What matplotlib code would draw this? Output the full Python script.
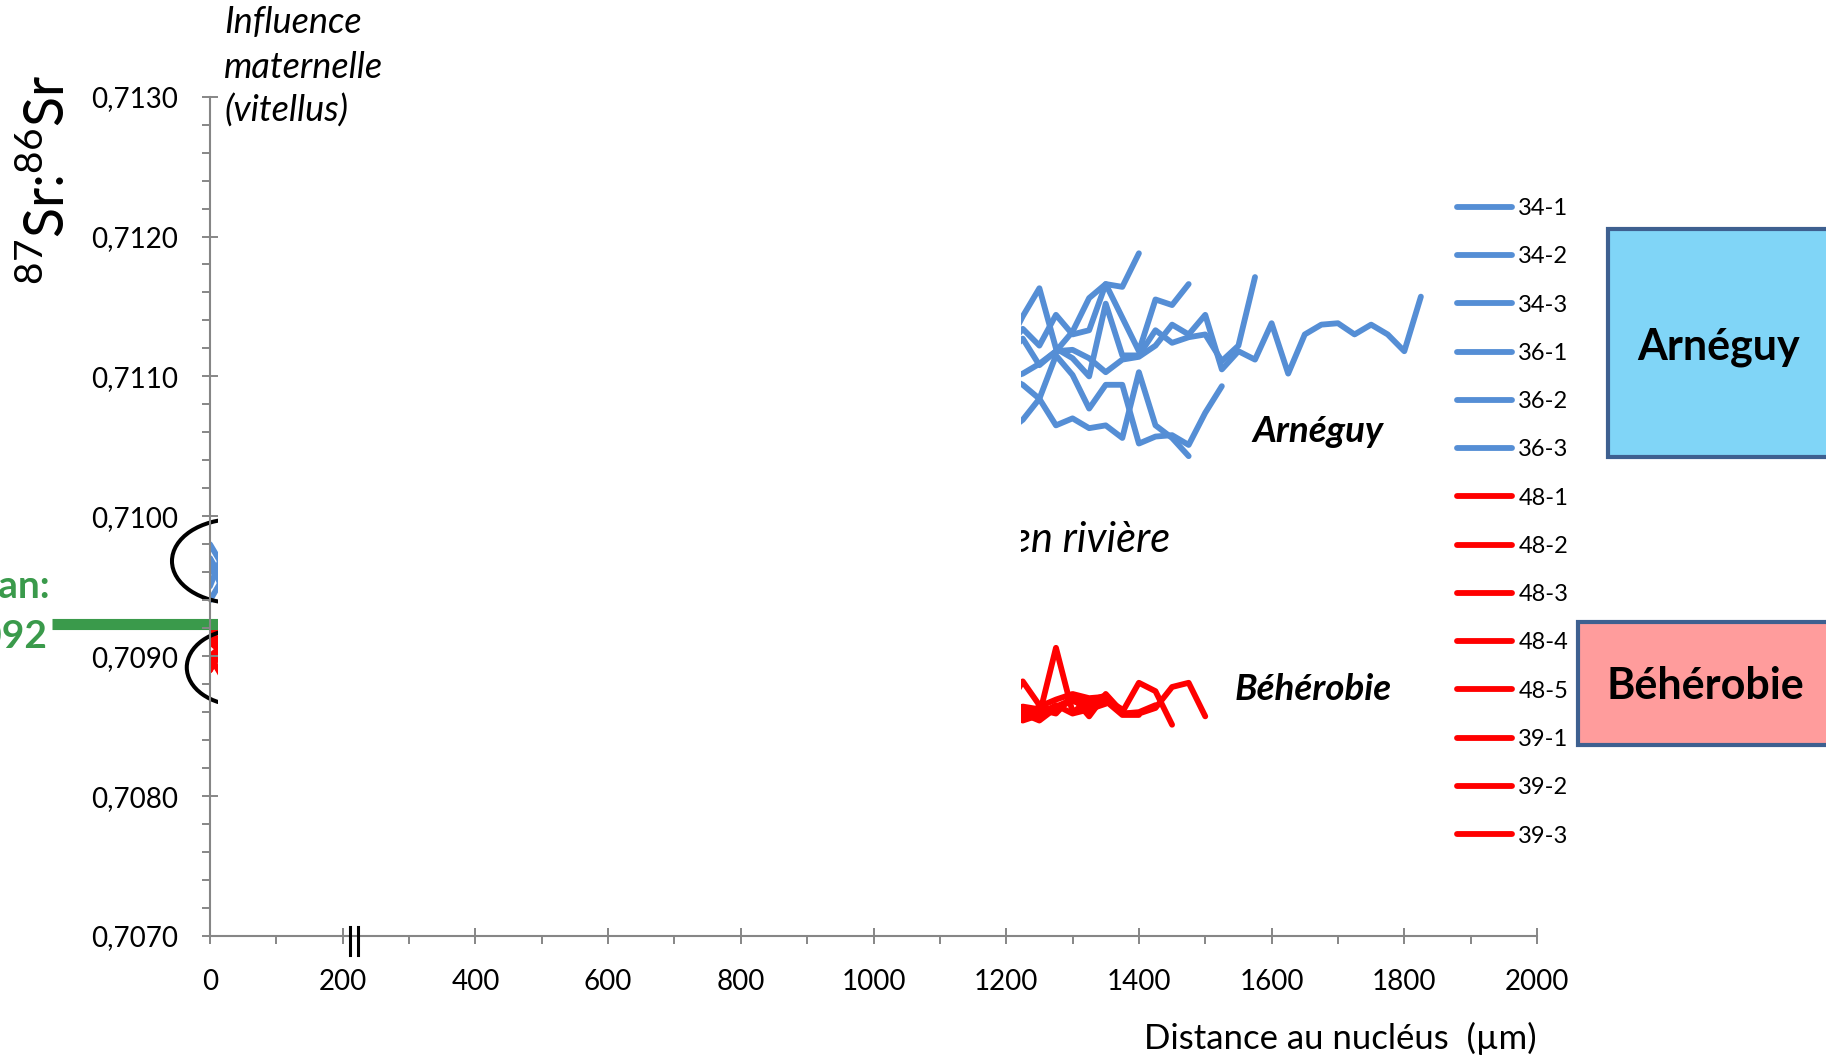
import matplotlib.pyplot as plt
from matplotlib.patches import Ellipse, Rectangle
from matplotlib.ticker import MultipleLocator, FuncFormatter
import matplotlib.transforms as mtransforms

plt.rcParams['font.family'] = ['Lato', 'DejaVu Sans']
plt.rcParams['mathtext.fontset'] = 'custom'
plt.rcParams['mathtext.rm'] = 'Lato'

# distances (µm): first points near the nucleus, then the visible river part
x_near = [0, 25]
x_far = [1200, 1225, 1250, 1275, 1300, 1325, 1350, 1375, 1400, 1425, 1450,
         1475, 1500, 1525, 1550, 1575, 1600, 1625, 1650, 1675, 1700, 1725,
         1750, 1775, 1800, 1825]

# Arnéguy fish (blue)
arn_labels = ["34-1", "34-2", "34-3", "36-1", "36-2", "36-3"]
arn_near = [
    [0.7097, 0.7095],
    [0.7098, 0.7096],
    [0.7096, 0.7097],
    [0.7095, 0.7098],
    [0.7094, 0.7096],
    [0.7097, 0.7094],
]
arn_far = [
    [0.71098, 0.71102, 0.71109, 0.71118, 0.71132, 0.71156, 0.71166, 0.71164, 0.71188],
    [0.71120, 0.71134, 0.71122, 0.71144, 0.71130, 0.71133, 0.71166, 0.71142, 0.71118,
     0.71155, 0.71151, 0.71166],
    [0.71115, 0.71127, 0.71108, 0.71118, 0.71119, 0.71113, 0.71103, 0.71112, 0.71114,
     0.71122, 0.71137, 0.71130, 0.71144, 0.71105, 0.71118, 0.71112, 0.71138, 0.71102,
     0.71130, 0.71137, 0.71138, 0.71130, 0.71137, 0.71130, 0.71118, 0.71157],
    [0.71120, 0.71143, 0.71163, 0.71120, 0.71113, 0.71100, 0.71152, 0.71115, 0.71115,
     0.71133, 0.71124, 0.71128, 0.71130, 0.71111, 0.71122, 0.71171],
    [0.71100, 0.71094, 0.71084, 0.71065, 0.71070, 0.71063, 0.71065, 0.71056, 0.71103,
     0.71065, 0.71056, 0.71043],
    [0.71060, 0.71069, 0.71084, 0.71115, 0.71101, 0.71077, 0.71094, 0.71094, 0.71052,
     0.71057, 0.71058, 0.71051, 0.71074, 0.71093],
]

# Béhérobie fish (red)
beh_labels = ["48-1", "48-2", "48-3", "48-4", "48-5", "39-1", "39-2", "39-3"]
beh_near = [
    [0.7092, 0.7089],
    [0.7091, 0.7093],
    [0.7090, 0.7091],
    [0.7089, 0.7092],
    [0.7091, 0.7090],
    [0.7090, 0.7088],
    [0.7092, 0.7090],
    [0.7089, 0.7091],
]
beh_far = [
    [0.70860, 0.70862, 0.70858, 0.70906, 0.70860, 0.70868, 0.70872, 0.70859, 0.70859,
     0.70863, 0.70878, 0.70881, 0.70857],
    [0.70862, 0.70882, 0.70865, 0.70860, 0.70871, 0.70857, 0.70873, 0.70860, 0.70881,
     0.70875, 0.70851],
    [0.70860, 0.70856, 0.70864, 0.70869, 0.70873, 0.70870, 0.70871, 0.70859, 0.70860,
     0.70865],
    [0.70860, 0.70859, 0.70854, 0.70863, 0.70868, 0.70864, 0.70869, 0.70862],
    [0.70860, 0.70854, 0.70858, 0.70865, 0.70859, 0.70862, 0.70866],
    [0.70860, 0.70864, 0.70862, 0.70859, 0.70872, 0.70865, 0.70868, 0.70858, 0.70858],
    [0.70860, 0.70860, 0.70857, 0.70862, 0.70870, 0.70868],
    [0.70860, 0.70857, 0.70860, 0.70864, 0.70869],
]

ocean_value = 0.70923
ocean_x = [-238, 100]

blue = '#558ED5'
red = '#FF0000'
green = '#3A9A4B'
grey = '#868686'

fig = plt.figure(figsize=(18.26, 10.58), dpi=100)
W, H = 1826, 1058
ax = fig.add_axes([210 / W, 1 - 936 / H, 1327 / W, 839.4 / H])

handles = []
for lab, near, far in zip(arn_labels, arn_near, arn_far):
    ln, = ax.plot(x_near + x_far[:len(far)], near + far, color=blue, lw=4.2,
                  solid_capstyle='round', solid_joinstyle='round', label=lab, zorder=2)
    handles.append(ln)
for lab, near, far in zip(beh_labels, beh_near, beh_far):
    ln, = ax.plot(x_near + x_far[:len(far)], near + far, color=red, lw=4.2,
                  solid_capstyle='round', solid_joinstyle='round', label=lab, zorder=2)
    handles.append(ln)

# ocean reference line
ax.plot(ocean_x, [ocean_value, ocean_value], color=green, lw=8, clip_on=False,
        solid_capstyle='butt', zorder=2)

# circled starting values
ax.add_patch(Ellipse((37.7, 0.70968), 190, 0.00060, fill=False, ec='black', lw=2.9,
                     clip_on=False, zorder=2))
ax.add_patch(Ellipse((45, 0.70892), 160, 0.000543, fill=False, ec='black', lw=2.9,
                     clip_on=False, zorder=2))

ax.text(1170 / W, 1 - 551.7 / H, "en rivière", transform=fig.transFigure,
        ha='right', va='baseline', fontsize=30, style='italic', zorder=2)

# white panel hiding the middle of the plot
ax.add_patch(Rectangle((12.5, 0.70706), 1209.5, 0.00569, fc='white', ec='none', zorder=3))

ax.set_xlim(0, 2000)
ax.set_ylim(0.7070, 0.7130)
ax.xaxis.set_major_locator(MultipleLocator(200))
ax.xaxis.set_minor_locator(MultipleLocator(100))
ax.yaxis.set_major_locator(MultipleLocator(0.001))
ax.yaxis.set_minor_locator(MultipleLocator(0.0002))
ax.yaxis.set_major_formatter(FuncFormatter(lambda v, p: f"{v:.4f}".replace('.', ',')))

ax.tick_params(which='major', direction='inout', length=12, width=1.4, color=grey,
               labelsize=20)
ax.tick_params(axis='y', which='major', pad=17)
ax.tick_params(axis='x', which='major', pad=18)
ax.tick_params(which='minor', direction='out', length=6, width=1.4, color=grey)
for s in ['top', 'right']:
    ax.spines[s].set_visible(False)
for s in ['left', 'bottom']:
    ax.spines[s].set_color(grey)
    ax.spines[s].set_linewidth(1.5)
    ax.spines[s].set_zorder(4)
ax.xaxis.set_zorder(4)
ax.yaxis.set_zorder(4)

# axis break mark
trans = mtransforms.blended_transform_factory(ax.transData, ax.transAxes)
for xb in [211, 223]:
    ax.plot([xb, xb], [0.0107, -0.0226], color='black', lw=2.2, transform=trans,
            clip_on=False, zorder=5)

leg = ax.legend(handles, arn_labels + beh_labels, loc='upper left',
                bbox_to_anchor=(1457 / W, 1 - 198 / H), bbox_transform=fig.transFigure,
                frameon=False, fontsize=17, handlelength=2.35, handletextpad=0.25,
                labelspacing=1.155, borderpad=0, borderaxespad=0)
leg.set_zorder(5)

# texts
fig.text(47 / W, 1 - 180 / H, r'$^{87}$Sr:$^{86}$Sr', rotation=90, ha='center',
         va='center', fontsize=40)
for txt, yb in zip(["Influence", "maternelle", "(vitellus)"], [33, 78, 122]):
    fig.text(224 / W, 1 - yb / H, txt, ha='left', va='baseline', fontsize=26, style='italic')
fig.text(50 / W, 1 - 598 / H, "Océan:", ha='right', va='baseline', fontsize=28,
         weight='bold', color=green)
fig.text(47 / W, 1 - 647 / H, "0,7092", ha='right', va='baseline', fontsize=28,
         weight='bold', color=green)
fig.text(1252 / W, 1 - 441.7 / H, "Arnéguy", ha='left', va='baseline', fontsize=26.5,
         weight='bold', style='italic')
fig.text(1235 / W, 1 - 700 / H, "Béhérobie", ha='left', va='baseline', fontsize=26.5,
         weight='bold', style='italic')
fig.text(1537 / W, 1 - 1049 / H, "Distance au nucléus  (µm)", ha='right', va='baseline',
         fontsize=25)

# site boxes
fig.patches.append(Rectangle((1608 / W, 1 - 456.7 / H), 300 / W, 227.7 / H,
                             transform=fig.transFigure, fc='#80D5F7', ec='#3E6090', lw=3))
fig.text(1719 / W, 1 - 360 / H, "Arnéguy", ha='center', va='baseline', fontsize=31,
         weight='bold')
fig.patches.append(Rectangle((1578 / W, 1 - 745 / H), 300 / W, 123 / H,
                             transform=fig.transFigure, fc='#FF9C9C', ec='#3E6090', lw=3))
fig.text(1705 / W, 1 - 699.3 / H, "Béhérobie", ha='center', va='baseline', fontsize=31,
         weight='bold')

fig.savefig("out.png", dpi=100)
